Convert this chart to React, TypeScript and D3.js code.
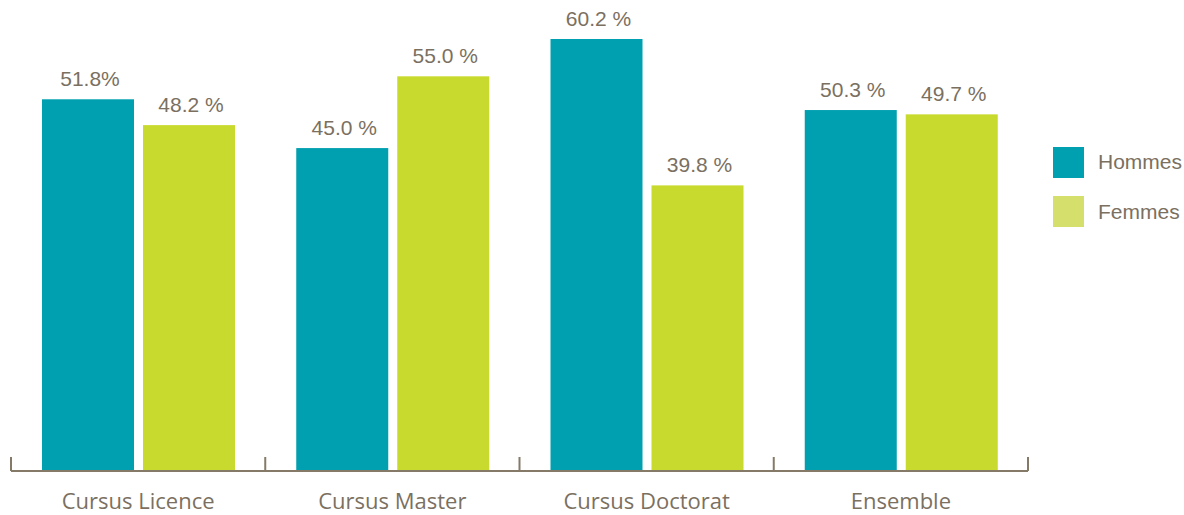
import React from "react";
import * as d3 from "d3";

const categories = ["Cursus Licence", "Cursus Master", "Cursus Doctorat", "Ensemble"];
const hommes = [51.8, 45.0, 60.2, 50.3];
const femmes = [48.2, 55.0, 39.8, 49.7];
const hommesLabels = ["51.8%", "45.0 %", "60.2 %", "50.3 %"];
const femmesLabels = ["48.2 %", "55.0 %", "39.8 %", "49.7 %"];
const seriesNames = ["Hommes", "Femmes"];

const W = 1184;
const H = 515;
const textColor = "#7b705f";
const axisColor = "#857a68";
const cHommes = "#00a0b0";
const cFemmes = "#c8da2e";
const cFemmesLegend = "#d4e06b";

export default function App() {
  const x = d3.scaleBand<string>().domain(categories).range([11, 1028]).paddingInner(0).paddingOuter(0);
  const baseY = 471;
  const y = d3.scaleLinear().domain([0, 60.2]).range([baseY, 39]);
  const bw = 92;
  const offs = [31, 132];
  const ticks = [...categories.map((c) => x(c) as number), 1028];

  return (
    <svg width={W} height={H} style={{ position: "absolute", left: 0, top: 0 }}>
      {categories.map((c, i) => {
        const x0 = x(c) as number;
        const vals = [hommes[i], femmes[i]];
        const labs = [hommesLabels[i], femmesLabels[i]];
        const cols = [cHommes, cFemmes];
        return (
          <g key={c}>
            {vals.map((v, j) => (
              <g key={j}>
                <rect x={x0 + offs[j]} y={y(v)} width={bw} height={baseY - y(v)} fill={cols[j]} />
                <text
                  x={x0 + offs[j] + bw / 2 + 2}
                  y={y(v) - 13}
                  textAnchor="middle"
                  fontFamily="'Liberation Sans', Arial, sans-serif"
                  fontSize={21}
                  fill={textColor}
                >
                  {labs[j]}
                </text>
              </g>
            ))}
            <text
              x={x0 + x.bandwidth() / 2}
              y={509}
              textAnchor="middle"
              fontFamily="'Open Sans', sans-serif"
              fontSize={22}
              fill={textColor}
            >
              {c}
            </text>
          </g>
        );
      })}
      <line x1={11} x2={1028} y1={baseY} y2={baseY} stroke={axisColor} strokeWidth={2} />
      {ticks.map((t, i) => (
        <line key={i} x1={t} x2={t} y1={457} y2={baseY} stroke={axisColor} strokeWidth={2} />
      ))}
      {seriesNames.map((s, i) => (
        <g key={s}>
          <rect x={1053} y={147 + i * 49} width={31} height={31} fill={i === 0 ? cHommes : cFemmesLegend} />
          <text
            x={1098}
            y={169 + i * 50}
            fontFamily="'Liberation Sans', Arial, sans-serif"
            fontSize={21}
            fill={textColor}
          >
            {s}
          </text>
        </g>
      ))}
    </svg>
  );
}
